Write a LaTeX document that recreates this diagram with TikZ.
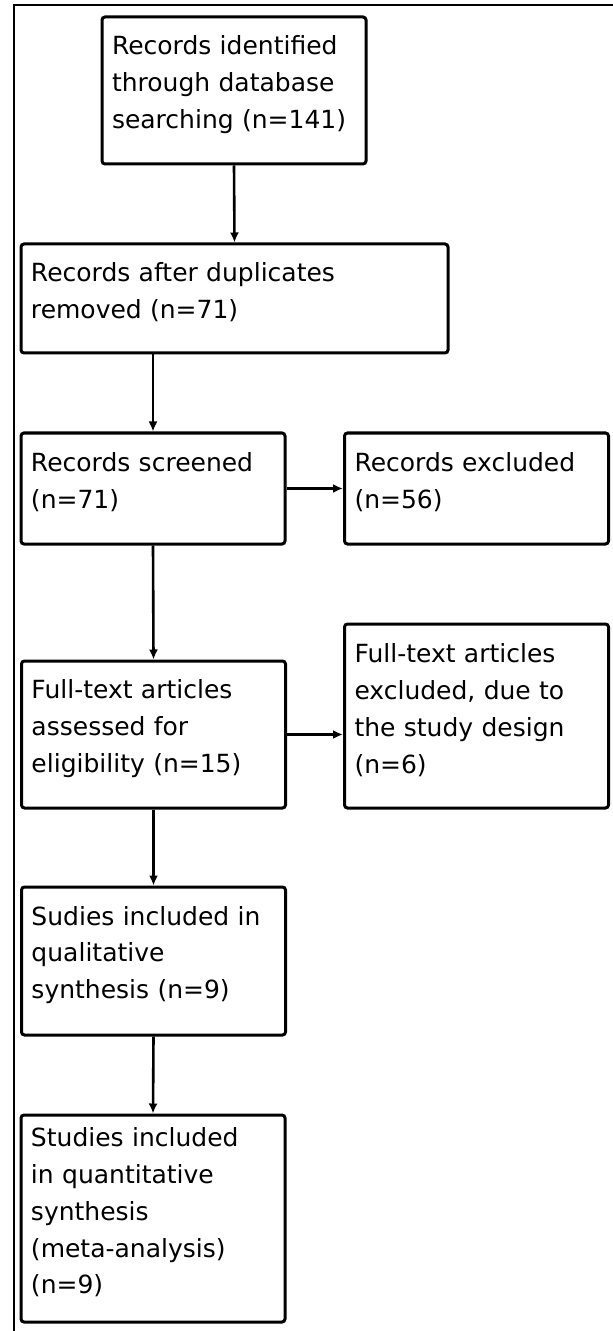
\documentclass[tikz,border=0pt]{standalone}
\usepackage{fontspec}
\setmainfont{DejaVu Sans}
\usepackage{tikz}
\usetikzlibrary{positioning, shapes.misc, arrows.meta, calc}

\begin{document}
\begin{tikzpicture}[
    x=0.5pt, y=-0.5pt,
    font=\fontsize{12.5}{18.4}\selectfont,
    flowarrow/.style={-{Latex[length=5pt, width=4.5pt]}, line width=1.3pt},
    box/.style={
        rectangle,
        rounded corners=1.5pt,
        draw=black,
        line width=1.5pt,
        align=left,
        text width=#1,
        inner xsep=5pt,
        inner ysep=0pt,
        execute at end node={\endgraf\vspace{6pt}}
    },
    box/.default=122pt,
    frame/.style={draw=black, line width=1.2pt}
]

\useasboundingbox (0,0) rectangle (612,1331);

% === OUTER FRAME ===
\draw [frame] (14,5) rectangle (660,1380);

% === IDENTIFICATION ===
\node (identified) [box, minimum height=73.5pt] at (234,90.5) {Records identified\\through database\\searching (n=141)};
\node (duplicates) [box=203.5pt, minimum height=54.5pt] at (234.5,298.5) {Records after duplicates\\removed (n=71)};

% === SCREENING ===
\node (screened) [box, minimum height=55.5pt] at (153,488.5) {Records screened\\(n=71)};
\node (excluded) [box, minimum height=55.5pt] at (476.5,488.5) {Records excluded\\(n=56)};

% === ELIGIBILITY ===
\node (assessed) [box, minimum height=73.5pt] at (153.5,734.5) {Full-text articles\\assessed for\\eligibility (n=15)};
\node (ftexcluded) [box, minimum height=92pt] at (476.5,716) {Full-text articles\\excluded, due to\\the study design\\(n=6)};

% === INCLUDED ===
\node (qualitative) [box, minimum height=74pt] at (153.5,961) {Sudies included in\\qualitative\\synthesis (n=9)};
\node (quantitative) [box, minimum height=103.5pt] at (153,1218.5) {Studies included\\in quantitative\\synthesis\\(meta-analysis)\\(n=9)};

% === ARROWS ===
\draw [flowarrow] (identified.south) -- (duplicates.north);
\draw [flowarrow] (screened.north |- duplicates.south) -- (screened.north);
\draw [flowarrow] (screened.east) -- (excluded.west);
\draw [flowarrow] (screened.south) -- (assessed.north);
\draw [flowarrow] (assessed.east) -- (assessed.east -| ftexcluded.west);
\draw [flowarrow] (assessed.south) -- (qualitative.north);
\draw [flowarrow] (qualitative.south) -- (quantitative.north);

\end{tikzpicture}
\end{document}
